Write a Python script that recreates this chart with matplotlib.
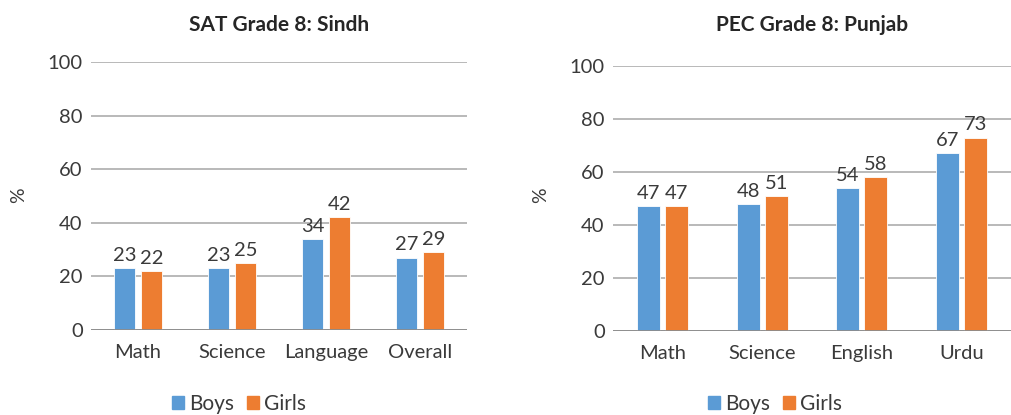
import matplotlib.pyplot as plt
from matplotlib.patches import Patch

plt.rcParams['font.family'] = ['Lato', 'DejaVu Sans']

# Data
sindh_subjects = ['Math', 'Science', 'Language', 'Overall']
sindh_boys = [23, 23, 34, 27]
sindh_girls = [22, 25, 42, 29]

punjab_subjects = ['Math', 'Science', 'English', 'Urdu']
punjab_boys = [47, 48, 54, 67]
punjab_girls = [47, 51, 58, 73]

blue = '#5B9BD5'
orange = '#ED7D31'
text_col = '#3a3a3a'

W, H = 1011, 415
fig = plt.figure(figsize=(W / 100, H / 100), dpi=100)


def panel(rect, title, subjects, boys, girls, bw, gap, legend_x):
    l, t, r, b = rect
    ax = fig.add_axes([l / W, 1 - b / H, (r - l) / W, (b - t) / H])
    x = list(range(len(subjects)))
    xb = [i - (bw + gap) / 2 for i in x]
    xg = [i + (bw + gap) / 2 for i in x]
    ax.bar(xb, boys, width=bw, color=blue, edgecolor='white', linewidth=0.6, zorder=3)
    ax.bar(xg, girls, width=bw, color=orange, edgecolor='white', linewidth=0.6, zorder=3)
    for xs, vals in ((xb, boys), (xg, girls)):
        for xi, v in zip(xs, vals):
            ax.annotate(str(v), (xi, v), xytext=(0, 3), textcoords='offset points',
                        ha='center', va='bottom', fontsize=14.5, color=text_col)
    ax.set_xlim(-0.5, len(subjects) - 0.5)
    ax.set_ylim(0, 100)
    ax.set_yticks([0, 20, 40, 60, 80, 100])
    ax.set_xticks(x)
    ax.set_xticklabels(subjects)
    ax.tick_params(length=0, labelsize=14.5, labelcolor=text_col)
    ax.tick_params(axis='x', pad=10)
    ax.tick_params(axis='y', pad=6)
    for s in ax.spines.values():
        s.set_visible(False)
    ax.yaxis.grid(True, color='#a6a6a6', linewidth=1.1, zorder=0)
    ax.axhline(0, color='#8c8c8c', linewidth=1.3, zorder=4)
    fig.text((l + r) / 2 / W, 1 - 25 / H, title, ha='center', va='center',
             fontsize=15, fontweight='bold', color='#262626')
    fig.text((l - 72) / W, 1 - 195 / H, '%', ha='center', va='center',
             rotation=90, fontsize=14, color=text_col)
    handles = [Patch(color=blue, label='Boys'), Patch(color=orange, label='Girls')]
    fig.legend(handles=handles, loc='center', bbox_to_anchor=(legend_x / W, 1 - 404 / H),
               ncol=2, frameon=False, fontsize=15, handlelength=0.6, handleheight=0.6,
               handletextpad=0.25, columnspacing=0.6, labelcolor=text_col)
    return ax


panel((91, 62, 467, 330), 'SAT Grade 8: Sindh', sindh_subjects, sindh_boys, sindh_girls,
      0.223, 0.064, 239)
panel((613, 66, 1011, 331), 'PEC Grade 8: Punjab', punjab_subjects, punjab_boys, punjab_girls,
      0.23, 0.05, 775)

fig.savefig('out.png', dpi=100)
